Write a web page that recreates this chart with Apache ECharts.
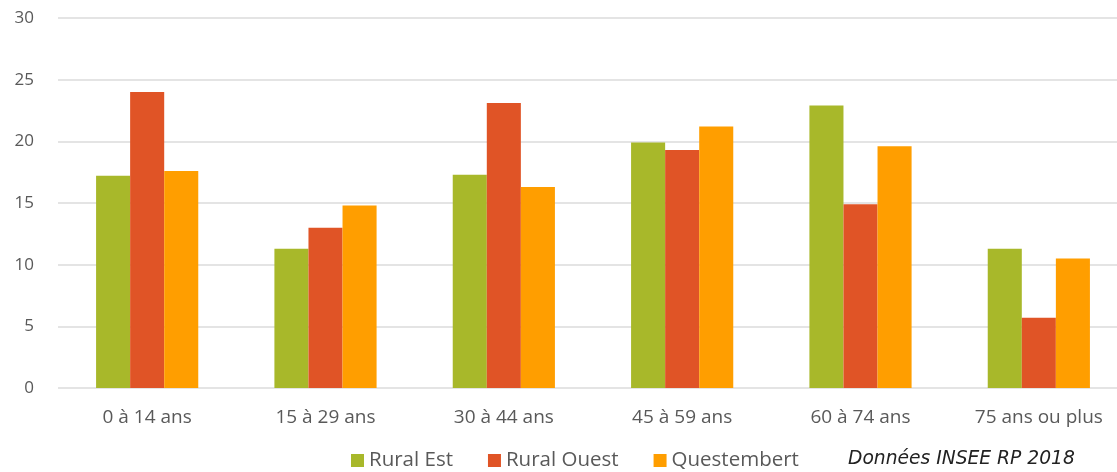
<!DOCTYPE html>
<html><head><meta charset="utf-8">
<script src="https://cdn.jsdelivr.net/npm/echarts@6/dist/echarts.min.js"></script>
<style>html,body{margin:0;padding:0;background:#fff;overflow:hidden}#c{width:1130px;height:472px}</style>
</head><body><div id="c"></div>
<script>
const categories = ['0 à 14 ans','15 à 29 ans','30 à 44 ans','45 à 59 ans','60 à 74 ans','75 ans ou plus'];
const ruralEst = [17.2, 11.3, 17.3, 19.9, 22.9, 11.3];
const ruralOuest = [24.0, 13.0, 23.1, 19.3, 14.9, 5.7];
const questembert = [17.6, 14.8, 16.3, 21.2, 19.6, 10.5];
const seriesNames = ['Rural Est','Rural Ouest','Questembert'];
const colors = ['#A8B82A','#E05426','#FF9E00'];
const sourceNote = 'Données INSEE RP 2018';
const font = 'Open Sans';
const chart = echarts.init(document.getElementById('c'));
chart.setOption({
  animation:false,
  textStyle:{fontFamily:font},
  grid:{left:58, top:18, width:1070, height:370, containLabel:false},
  legend:{left:351, top:450, padding:0, itemWidth:13, itemHeight:13, itemGap:35, icon:'rect',
    textStyle:{fontFamily:font, fontSize:20.5, color:'#595959'},
    data:seriesNames},
  graphic:[{type:'text', left:848, top:450, style:{text:sourceNote, font:'italic 18.7px "DejaVu Sans"', fill:'#222'}}],
  xAxis:{type:'category', data:categories,
    axisLine:{show:false}, axisTick:{show:false},
    axisLabel:{fontSize:19, color:'#595959', margin:20}},
  yAxis:{type:'value', min:0, max:30, interval:5,
    axisLine:{show:false}, axisTick:{show:false},
    axisLabel:{fontSize:17, color:'#595959', margin:24},
    splitLine:{lineStyle:{color:'#e4e4e4', width:2}}},
  series:[
    {name:seriesNames[0], type:'bar', data:ruralEst, itemStyle:{color:colors[0]}, barGap:'0%', barCategoryGap:'42.7%'},
    {name:seriesNames[1], type:'bar', data:ruralOuest, itemStyle:{color:colors[1]}, barGap:'0%', barCategoryGap:'42.7%'},
    {name:seriesNames[2], type:'bar', data:questembert, itemStyle:{color:colors[2]}, barGap:'0%', barCategoryGap:'42.7%'}
  ]
});
</script></body></html>
